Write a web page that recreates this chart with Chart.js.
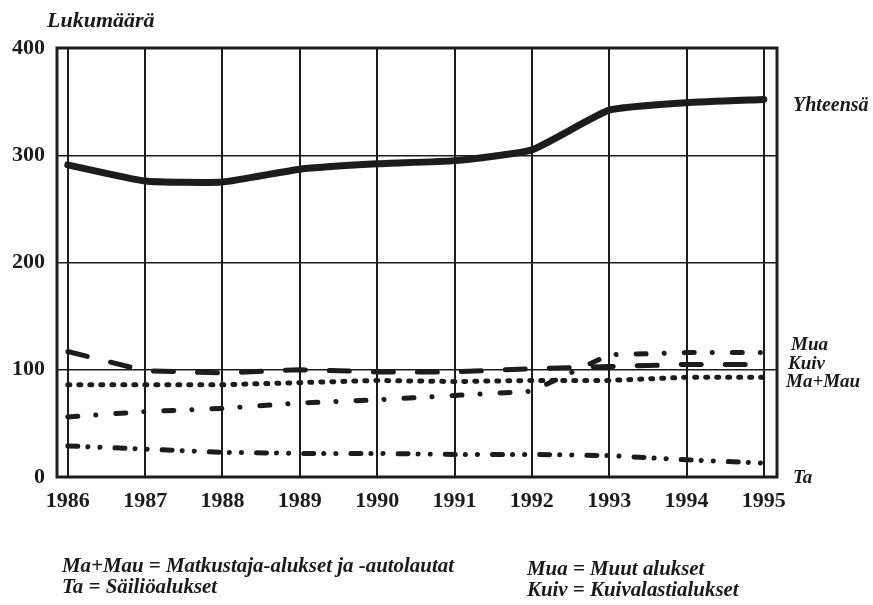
<!DOCTYPE html>
<html>
<head>
<meta charset="utf-8">
<script src="https://cdn.jsdelivr.net/npm/chart.js@4/dist/chart.umd.min.js"></script>
<style>
  body { margin: 0; background: #fff; }
  #wrap { position: relative; width: 873px; height: 605px; }
  .t { position: absolute; font-family: "Liberation Serif", "DejaVu Serif", serif; font-weight: bold; font-style: italic; color: #1a1a1a; white-space: nowrap; }
  .leg { font-size: 22px; transform: scaleX(0.95); transform-origin: left center; }
</style>
</head>
<body>
<div id="wrap">
  <canvas id="c" width="873" height="605"></canvas>
  <div class="t" style="left:47px;top:7px;font-size:22px;">Lukumäärä</div>
  <div class="t" style="left:793px;top:93px;font-size:20px;">Yhteensä</div>
  <div class="t" style="left:791px;top:333px;font-size:19px;">Mua</div>
  <div class="t" style="left:788px;top:352px;font-size:19px;">Kuiv</div>
  <div class="t" style="left:786px;top:370px;font-size:19px;">Ma+Mau</div>
  <div class="t" style="left:793px;top:466px;font-size:19px;">Ta</div>
  <div class="t leg" style="left:62px;top:552px;">Ma+Mau = Matkustaja-alukset ja -autolautat</div>
  <div class="t leg" style="left:62px;top:573px;">Ta = Säiliöalukset</div>
  <div class="t leg" style="left:527px;top:555px;">Mua = Muut alukset</div>
  <div class="t leg" style="left:527px;top:576px;">Kuiv = Kuivalastialukset</div>
</div>
<script>
var years = [1986, 1987, 1988, 1989, 1990, 1991, 1992, 1993, 1994, 1995],
    yTicks = [0, 100, 200, 300, 400],
    yhteensa = [291, 276, 275, 287, 292, 295, 305, 342, 349, 352],
    mua = [56, 61, 64, 69, 72, 76, 80, 114, 116, 116],
    kuiv = [117, 99, 97, 100, 98, 98, 101, 103, 105, 105],
    maMau = [86, 86, 86, 88, 90, 89, 90, 90, 93, 93],
    ta = [29, 26, 23, 22, 22, 21, 21, 20, 16, 13];

function pts(arr) {
    return arr.map(function (v, i) { return { x: years[i], y: v }; });
}

var ink = "#1c1c1c";

// frame round the plot area
var frame = {
    id: "frame",
    afterDraw: function (chart) {
        var a = chart.chartArea, ctx = chart.ctx;
        ctx.save();
        ctx.strokeStyle = ink;
        ctx.lineWidth = 3;
        ctx.strokeRect(a.left, a.top, a.right - a.left, a.bottom - a.top);
        ctx.restore();
    }
};

new Chart(document.getElementById("c").getContext("2d"), {
    type: "line",
    data: {
        datasets: [
            { label: "Yhteensä", data: pts(yhteensa), borderWidth: 7, tension: 0.15 },
            { label: "Mua", data: pts(mua), borderWidth: 5, borderDash: [10, 18, 0.1, 20] },
            { label: "Kuiv", data: pts(kuiv), borderWidth: 5, borderDash: [20, 24] },
            { label: "Ma+Mau", data: pts(maMau), borderWidth: 5, borderDash: [2, 9] },
            { label: "Ta", data: pts(ta), borderWidth: 5, borderDash: [10, 10, 0.1, 12, 0.1, 15] }
        ].map(function (d) {
            d.borderColor = ink;
            d.pointRadius = 0;
            d.borderCapStyle = "round";
            d.fill = false;
            return d;
        })
    },
    options: {
        responsive: false,
        animation: false,
        devicePixelRatio: 1,
        layout: { padding: { top: 48, right: 96, bottom: 0, left: 0 } },
        plugins: { legend: { display: false }, tooltip: { enabled: false } },
        scales: {
            x: {
                type: "linear",
                min: 1985.86,
                max: 1995.17,
                afterBuildTicks: function (s) { s.ticks = years.map(function (v) { return { value: v }; }); },
                afterFit: function (s) { s.height = 128; },
                ticks: {
                    color: ink,
                    padding: 11,
                    maxRotation: 0,
                    autoSkip: false,
                    font: { family: "Liberation Serif", weight: "bold", size: 22 },
                    callback: function (v) { return String(v); }
                },
                grid: { color: ink, lineWidth: 2, drawTicks: false },
                border: { display: false }
            },
            y: {
                min: 0,
                max: 400,
                afterBuildTicks: function (s) { s.ticks = yTicks.map(function (v) { return { value: v }; }); },
                afterFit: function (s) { s.width = 57; },
                ticks: {
                    color: ink,
                    padding: 12,
                    font: { family: "Liberation Serif", weight: "bold", size: 22 }
                },
                grid: { color: ink, lineWidth: 1.5, drawTicks: false },
                border: { display: false }
            }
        }
    },
    plugins: [frame]
});
</script>
</body>
</html>
